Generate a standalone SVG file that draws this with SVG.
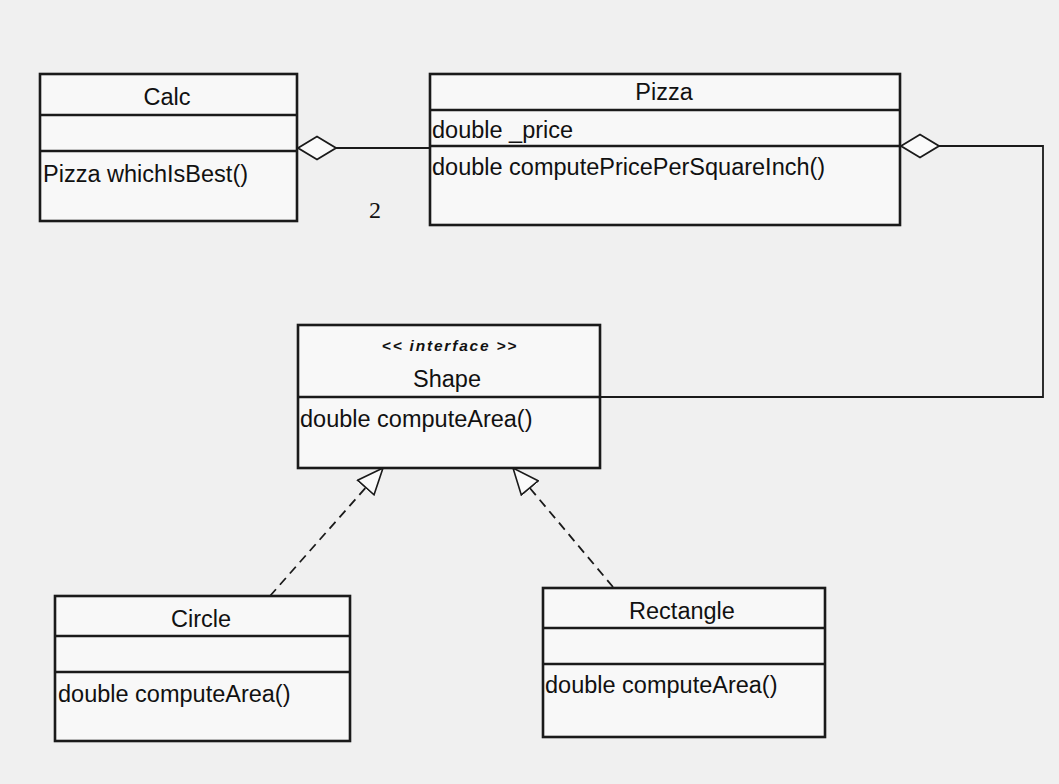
<svg xmlns="http://www.w3.org/2000/svg" width="1059" height="784" viewBox="0 0 1059 784">
  <style>
    .box { fill: #f8f8f8; stroke: #1a1a1a; stroke-width: 2.6; }
    .div { stroke: #1a1a1a; stroke-width: 2.4; }
    .t { font-family: "Liberation Sans", Arial, sans-serif; font-size: 23.5px; fill: #111; }
    .c { text-anchor: middle; }
    .st { font-family: "Liberation Sans", Arial, sans-serif; font-size: 15.5px; font-style: italic; font-weight: bold; letter-spacing: 1.8px; fill: #111; text-anchor: middle; }
    .assoc { fill: none; stroke: #1a1a1a; stroke-width: 1.8; }
    .real { fill: none; stroke: #1a1a1a; stroke-width: 1.8; stroke-dasharray: 9 6; }
    .mult { font-family: "Liberation Serif", "Times New Roman", serif; font-size: 24px; fill: #111; }
  </style>
  <defs>
    <!-- hollow aggregation diamond -->
    <marker id="diamond" viewBox="0 0 40 26" refX="0" refY="13" markerWidth="40" markerHeight="26" markerUnits="userSpaceOnUse" orient="auto">
      <path d="M1,13 L20,1.5 L39,13 L20,24.5 Z" fill="#fafafa" stroke="#1a1a1a" stroke-width="1.8"/>
    </marker>
    <!-- hollow realization triangle -->
    <marker id="realize" viewBox="0 0 28 24" refX="27" refY="12" markerWidth="28" markerHeight="24" markerUnits="userSpaceOnUse" orient="auto">
      <path d="M27,12 L1,1 L1,23 Z" fill="#fafafa" stroke="#1a1a1a" stroke-width="1.6"/>
    </marker>
  </defs>

  <rect width="1059" height="784" fill="#f0f0f0"/>

  <!-- connectors -->
  <g id="connectors">
    <path class="assoc" d="M297,148 L430,148" marker-start="url(#diamond)"/>
    <path class="assoc" d="M900,146 L1043,146 L1043,397 L600,397" marker-start="url(#diamond)"/>
    <path class="real" d="M270,596 L383,468" marker-end="url(#realize)"/>
    <path class="real" d="M613,587 L513,468" marker-end="url(#realize)"/>
    <text class="mult" x="369" y="218">2</text>
  </g>

  <!-- Calc -->
  <g id="calc">
    <rect class="box" x="40" y="74" width="257" height="147"/>
    <line class="div" x1="40" y1="115" x2="297" y2="115"/>
    <line class="div" x1="40" y1="151" x2="297" y2="151"/>
    <text class="t c" x="167" y="105">Calc</text>
    <text class="t" x="43" y="182">Pizza whichIsBest()</text>
  </g>

  <!-- Pizza -->
  <g id="pizza">
    <rect class="box" x="430" y="74" width="470" height="151"/>
    <line class="div" x1="430" y1="110" x2="900" y2="110"/>
    <line class="div" x1="430" y1="146" x2="900" y2="146"/>
    <text class="t c" x="664" y="100">Pizza</text>
    <text class="t" x="432" y="138">double _price</text>
    <text class="t" x="432" y="175">double computePricePerSquareInch()</text>
  </g>

  <!-- Shape -->
  <g id="shape">
    <rect class="box" x="298" y="325" width="302" height="143"/>
    <line class="div" x1="298" y1="397" x2="600" y2="397"/>
    <text class="st" x="450" y="351">&lt;&lt; interface &gt;&gt;</text>
    <text class="t c" x="447" y="387">Shape</text>
    <text class="t" x="300" y="427">double computeArea()</text>
  </g>

  <!-- Circle -->
  <g id="circle">
    <rect class="box" x="55" y="596" width="295" height="145"/>
    <line class="div" x1="55" y1="636" x2="350" y2="636"/>
    <line class="div" x1="55" y1="672" x2="350" y2="672"/>
    <text class="t c" x="201" y="627">Circle</text>
    <text class="t" x="58" y="702">double computeArea()</text>
  </g>

  <!-- Rectangle -->
  <g id="rectangle">
    <rect class="box" x="543" y="588" width="282" height="149"/>
    <line class="div" x1="543" y1="628" x2="825" y2="628"/>
    <line class="div" x1="543" y1="664" x2="825" y2="664"/>
    <text class="t c" x="682" y="619">Rectangle</text>
    <text class="t" x="545" y="693">double computeArea()</text>
  </g>
</svg>
